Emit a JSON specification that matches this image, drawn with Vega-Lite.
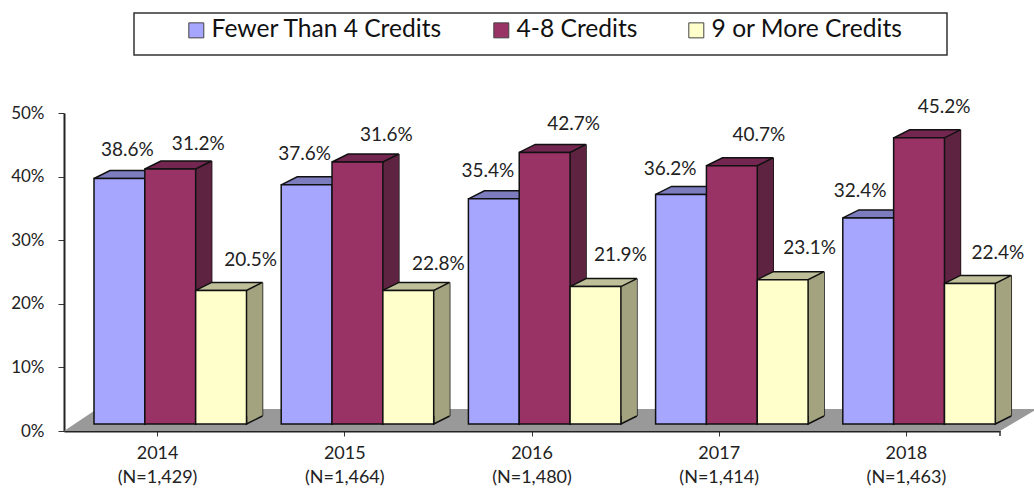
{
"$schema":"https://vega.github.io/schema/vega-lite/v6.json",
"width":936,"height":318,
"autosize":"none",
"padding":{"left":64,"top":113,"right":34,"bottom":57},
"background":"white",
"config":{"view":{"stroke":null},"font":"Lato","text":{"fontSize":19,"fill":"#222"}},
"datasets":{"d":[
{"year":"2014|(N=1,429)","group":"Fewer Than 4 Credits","value":38.6,"label":"38.6%"},
{"year":"2014|(N=1,429)","group":"4-8 Credits","value":40.1,"label":"31.2%"},
{"year":"2014|(N=1,429)","group":"9 or More Credits","value":21,"label":"20.5%"},
{"year":"2015|(N=1,464)","group":"Fewer Than 4 Credits","value":37.6,"label":"37.6%"},
{"year":"2015|(N=1,464)","group":"4-8 Credits","value":41.2,"label":"31.6%"},
{"year":"2015|(N=1,464)","group":"9 or More Credits","value":21,"label":"22.8%"},
{"year":"2016|(N=1,480)","group":"Fewer Than 4 Credits","value":35.4,"label":"35.4%"},
{"year":"2016|(N=1,480)","group":"4-8 Credits","value":42.7,"label":"42.7%"},
{"year":"2016|(N=1,480)","group":"9 or More Credits","value":21.6,"label":"21.9%"},
{"year":"2017|(N=1,414)","group":"Fewer Than 4 Credits","value":36.1,"label":"36.2%"},
{"year":"2017|(N=1,414)","group":"4-8 Credits","value":40.6,"label":"40.7%"},
{"year":"2017|(N=1,414)","group":"9 or More Credits","value":22.7,"label":"23.1%"},
{"year":"2018|(N=1,463)","group":"Fewer Than 4 Credits","value":32.4,"label":"32.4%"},
{"year":"2018|(N=1,463)","group":"4-8 Credits","value":45,"label":"45.2%"},
{"year":"2018|(N=1,463)","group":"9 or More Credits","value":22.1,"label":"22.4%"}
]},
"data":{"name":"d"},
"encoding":{
"x":{"field":"year","type":"nominal","title":null,"scale":{"paddingInner":0,"paddingOuter":0},"axis":{"labelAngle":0,"labelExpr":"split(datum.value,'|')","labelFontSize":18,"labelColor":"#222","labelPadding":8,"labelLineHeight":24,"domainColor":"#222","domainWidth":2,"tickColor":"#333","tickSize":5,"labelBaseline":"top"}},
"y":{"field":"value","type":"quantitative","title":null,"scale":{"domain":[0,50],"nice":false},"axis":{"values":[0,10,20,30,40,50],"format":".0f","labelExpr":"datum.value+'%'","grid":false,"labelFontSize":17,"labelColor":"#222","labelPadding":14,"domainColor":"#222","domainWidth":2,"tickColor":"#333","tickSize":6}}
},
"layer":[
{"data":{"values":[{"year":"2014|(N=1,429)","value":0}]},
 "mark":{"type":"point","filled":true,"opacity":1,"size":4,"fill":"#999999","stroke":null,"shape":"M0,0L936,0L973,-22L33,-22Z"},
 "encoding":{"xOffset":{"value":0}}},
{"data":{"values":[{"year":"2014|(N=1,429)","value":0}]},
 "mark":{"type":"point","filled":false,"opacity":1,"size":4,"stroke":"#333","strokeWidth":1.5,"shape":"M70,-418L883,-418L883,-376L70,-376ZM936,0L936,5"},
 "encoding":{"xOffset":{"value":0}}},
{"mark":{"type":"rule","stroke":"#111","strokeWidth":1.5,"yOffset":-15,"y2Offset":-15},
 "encoding":{"y2":{"datum":0},"xOffset":{"field":"group","type":"nominal","scale":{"type":"band","domain":["Fewer Than 4 Credits","4-8 Credits","9 or More Credits"],"range":[71.4,223.9],"paddingInner":0,"paddingOuter":0}}}},
{"mark":{"type":"bar","yOffset":-15,"y2Offset":-15},
 "encoding":{"y2":{"datum":0},"xOffset":{"field":"group","type":"nominal","scale":{"type":"band","domain":["Fewer Than 4 Credits","4-8 Credits","9 or More Credits"],"range":[46,198.5],"paddingInner":0,"paddingOuter":0}},"fill":{"field":"group","type":"nominal","legend":null,"scale":{"domain":["Fewer Than 4 Credits","4-8 Credits","9 or More Credits"],"range":["#53537F","#5E2340","#A3A380"]}}}},
{"mark":{"type":"point","filled":true,"opacity":1,"size":4,"stroke":"#111","strokeWidth":1.5,"shape":"M41.4,-15L25.4,-7L25.4,-15"},
 "encoding":{"y":{"datum":0},"xOffset":{"field":"group","type":"nominal","scale":{"type":"band","domain":["Fewer Than 4 Credits","4-8 Credits","9 or More Credits"],"range":[30,182.5],"paddingInner":0,"paddingOuter":0}},"fill":{"field":"group","type":"nominal","legend":null,"scale":{"domain":["Fewer Than 4 Credits","4-8 Credits","9 or More Credits"],"range":["#53537F","#5E2340","#A3A380"]}}}},
{"mark":{"type":"point","filled":true,"opacity":1,"size":4,"stroke":"#111","strokeWidth":1.5,"shape":"M-25.4,-7L25.4,-7L41.4,-15L-9.4,-15Z"},
 "encoding":{"xOffset":{"field":"group","type":"nominal","scale":{"type":"band","domain":["Fewer Than 4 Credits","4-8 Credits","9 or More Credits"],"range":[30,182.5],"paddingInner":0,"paddingOuter":0}},"fill":{"field":"group","type":"nominal","legend":null,"scale":{"domain":["Fewer Than 4 Credits","4-8 Credits","9 or More Credits"],"range":["#7C7CBF","#732650","#BFBF99"]}}}},
{"mark":{"type":"bar","stroke":"#111","strokeWidth":1.5,"yOffset":-7,"y2Offset":-7},
 "encoding":{"y2":{"datum":0},"xOffset":{"field":"group","type":"nominal","scale":{"type":"band","domain":["Fewer Than 4 Credits","4-8 Credits","9 or More Credits"],"range":[30,182.5],"paddingInner":0,"paddingOuter":0}},"fill":{"field":"group","type":"nominal","scale":{"domain":["Fewer Than 4 Credits","4-8 Credits","9 or More Credits"],"range":["#A6A6FF","#993366","#FFFFCC"]},
 "legend":{"orient":"none","legendX":120,"legendY":-95,"direction":"horizontal","columns":3,"title":null,"symbolType":"square","symbolSize":225,"symbolStrokeColor":"#444","symbolStrokeWidth":1,"labelFontSize":24.6,"labelColor":"#111","labelOffset":3,"columnPadding":46,"padding":0,"symbolOpacity":1,"labelLimit":400}}}},
{"encoding":{"text":{"field":"label"},"xOffset":{"field":"group","type":"nominal","scale":{"type":"band","domain":["Fewer Than 4 Credits","4-8 Credits","9 or More Credits"],"range":[30,182.5],"paddingInner":0,"paddingOuter":0}}},
"layer":[
{"transform":[{"filter":"datum.label=='38.6%'"}],"mark":{"type":"text","dx":8,"dy":-35.5}},
{"transform":[{"filter":"datum.label=='31.2%'"}],"mark":{"type":"text","dx":28,"dy":-32}},
{"transform":[{"filter":"datum.label=='20.5%'"}],"mark":{"type":"text","dx":29.5,"dy":-37}},
{"transform":[{"filter":"datum.label=='37.6%'"}],"mark":{"type":"text","dx":-2,"dy":-38}},
{"transform":[{"filter":"datum.label=='31.6%'"}],"mark":{"type":"text","dx":29,"dy":-34}},
{"transform":[{"filter":"datum.label=='22.8%'"}],"mark":{"type":"text","dx":30,"dy":-33}},
{"transform":[{"filter":"datum.label=='35.4%'"}],"mark":{"type":"text","dx":-6,"dy":-35}},
{"transform":[{"filter":"datum.label=='42.7%'"}],"mark":{"type":"text","dx":29,"dy":-35}},
{"transform":[{"filter":"datum.label=='21.9%'"}],"mark":{"type":"text","dx":25,"dy":-39}},
{"transform":[{"filter":"datum.label=='36.2%'"}],"mark":{"type":"text","dx":-11,"dy":-32.6}},
{"transform":[{"filter":"datum.label=='40.7%'"}],"mark":{"type":"text","dx":27,"dy":-37.6}},
{"transform":[{"filter":"datum.label=='23.1%'"}],"mark":{"type":"text","dx":27,"dy":-38.5}},
{"transform":[{"filter":"datum.label=='32.4%'"}],"mark":{"type":"text","dx":-8,"dy":-34}},
{"transform":[{"filter":"datum.label=='45.2%'"}],"mark":{"type":"text","dx":25,"dy":-37.8}},
{"transform":[{"filter":"datum.label=='22.4%'"}],"mark":{"type":"text","dx":28,"dy":-37.4}}
]}
],
"resolve":{"scale":{"fill":"independent","xOffset":"independent"}}
}
